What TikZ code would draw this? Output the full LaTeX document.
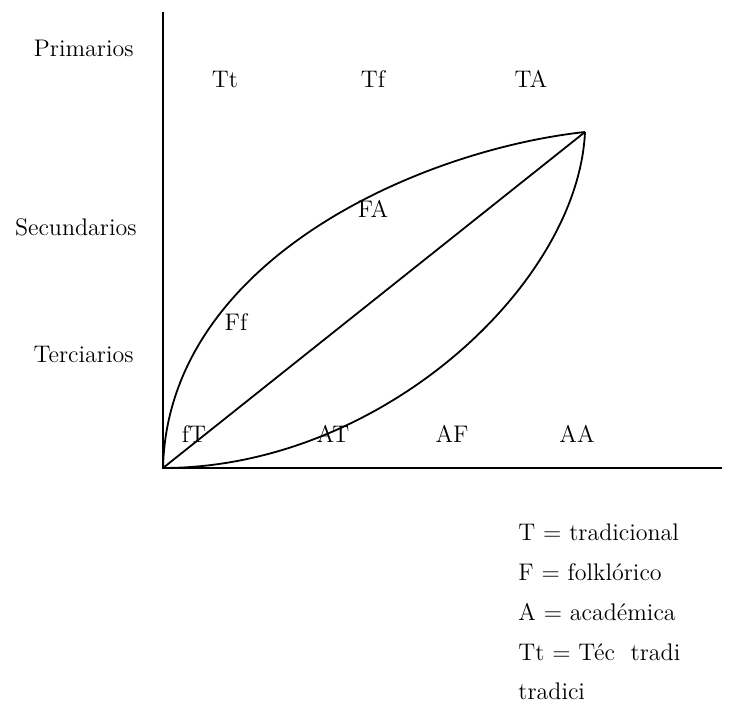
\documentclass[tikz,border=0pt]{standalone}
\begin{document}
\begin{tikzpicture}[x=0.5pt,y=-0.5pt,
  lbl/.style={inner sep=0pt, font=\fontsize{12}{14}\selectfont},
  curve/.style={line width=0.9pt, line join=round}]
  \useasboundingbox (0,0) rectangle (735,704);

  % Axes
  \coordinate (o) at (163,468);
  \coordinate (ytop) at (163,12);
  \coordinate (xend) at (722,468);
  \coordinate (p) at (585,132);
  \draw[line width=0.6pt] (ytop) -- (o) -- (xend);

  % Curves
  \draw[curve] (o) .. controls (168,260) and (420,150) .. (p);
  \draw[curve] (o) -- (p);
  \draw[curve] (o) .. controls (380,468) and (578,285) .. (p);

  % Levels
  \node[lbl, anchor=base east] (prim) at (134,57) {Primarios};
  \node[lbl, anchor=base east] (sec) at (137,236) {Secundarios};
  \node[lbl, anchor=base east] (ter) at (134,363) {Terciarios};

  % Labels
  \node[lbl, anchor=base] (tt) at (225,88) {Tt};
  \node[lbl, anchor=base] (tf) at (373,88) {Tf};
  \node[lbl, anchor=base] (ta) at (531,88) {TA};
  \node[lbl, anchor=base] (fa) at (373,218) {FA};
  \node[lbl, anchor=base] (ff) at (236,331) {Ff};
  \node[lbl, anchor=base] (ft) at (194,443) {fT};
  \node[lbl, anchor=base] (at) at (333,443) {AT};
  \node[lbl, anchor=base] (af) at (452,443) {AF};
  \node[lbl, anchor=base] (aa) at (577,443) {AA};

  % Legend
  \node[lbl, anchor=base west] (legt) at (518,541) {T = tradicional};
  \node[lbl, anchor=base west] (legf) at (518,581) {F = folklórico};
  \node[lbl, anchor=base west] (lega) at (518,621) {A = académica};
  \node[lbl, anchor=base west] (legtt) at (518,661) {Tt = Téc\ \ tradi};
  \node[lbl, anchor=base west] (legtr) at (518,700) {tradici};
\end{tikzpicture}
\end{document}
